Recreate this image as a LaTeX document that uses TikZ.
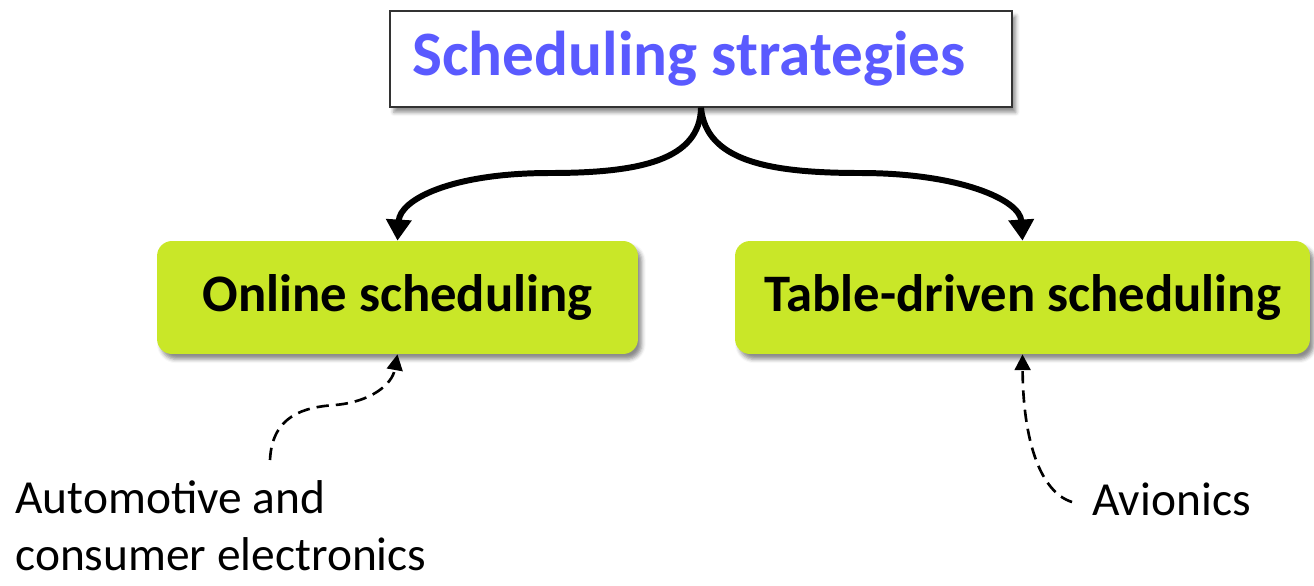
\documentclass[tikz,border=0pt]{standalone}
\usepackage{fontspec}
\setmainfont{Carlito}
\usetikzlibrary{arrows.meta,shadows.blur}
\definecolor{titleblue}{RGB}{90,90,255}
\definecolor{lime}{RGB}{201,231,40}
\begin{document}
\begin{tikzpicture}[x=0.02cm,y=-0.02cm,
  softshadow/.style={blur shadow={shadow xshift=2.2pt,shadow yshift=-3pt,shadow blur radius=2.2pt,shadow opacity=45}},
  titlebox/.style={draw=black!80,line width=0.8pt,fill=white,softshadow,
    minimum width=12.44cm,minimum height=1.92cm,inner sep=0pt,
    font=\fontsize{36}{40}\selectfont\bfseries,text=titleblue},
  kindbox/.style={fill=lime,rounded corners=0.3cm,softshadow,
    minimum height=2.26cm,inner sep=0pt,font=\fontsize{30}{34}\selectfont\bfseries},
  usage/.style={inner sep=0pt,font=\fontsize{27}{32.3}\selectfont,align=left},
  branch/.style={line width=3.4pt,-{Triangle[width=14pt,length=12pt]}},
  hint/.style={line width=1.5pt,dash pattern=on 7pt off 4pt,-{Triangle[width=9pt,length=9pt]}}]
  \useasboundingbox (0,0) rectangle (1314,585);

  % root and the two kinds of scheduling
  \node[titlebox] (root) at (701,59) {\hspace*{-0.48cm}\raisebox{-0.08cm}{Scheduling strategies}};
  \node[kindbox,minimum width=9.62cm] (online) at (397.5,297.5) {Online scheduling};
  \node[kindbox,minimum width=11.5cm] (table) at (1022.5,297.5) {Table-driven scheduling};

  % application domains (base anchor sits on the last line)
  \node[usage,anchor=base west] (auto) at (15,570) {Automotive and\\consumer electronics};
  \node[usage,anchor=base west] (avio) at (1092,515) {Avionics};
  \coordinate (autotail) at (270,460);
  \coordinate (aviotail) at (1072,502);

  % branches from the root
  \draw[branch] (root.south) .. controls (700,160) and (640,173) .. (550,173)
                .. controls (450,173) and (400,200) .. (online.north);
  \draw[branch] (root.south) .. controls (706,160) and (766,173) .. (860,173)
                .. controls (960,173) and (1020,200) .. (table.north);

  % domain pointers
  \draw[hint] (autotail) .. controls (272,415) and (305,407) .. (335,405)
              .. controls (370,402) and (392,385) .. (online.south);
  \draw[hint] (aviotail) .. controls (1040,492) and (1023,440) .. (table.south);
\end{tikzpicture}
\end{document}
